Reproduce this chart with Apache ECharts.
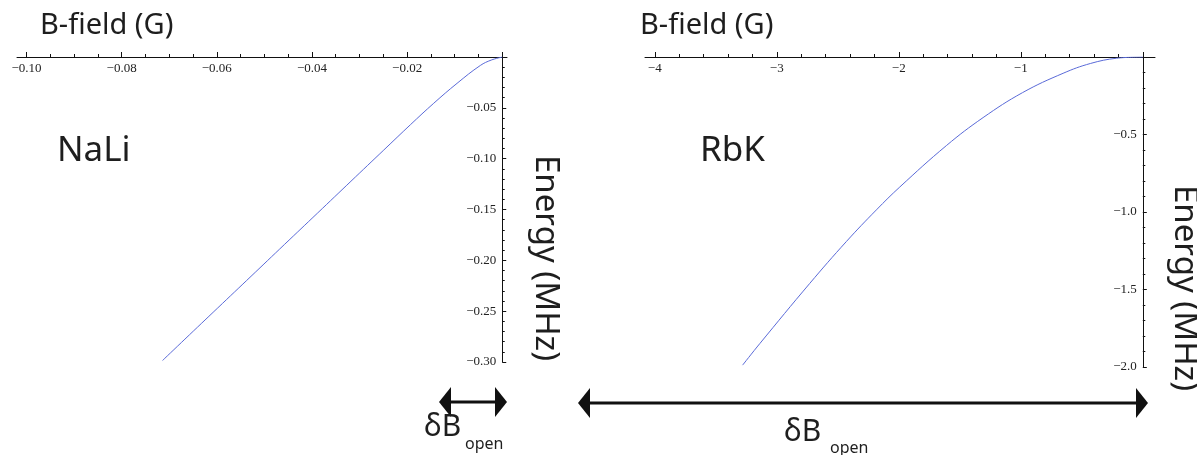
<!DOCTYPE html>
<html><head><meta charset="utf-8">
<script src="https://cdn.jsdelivr.net/npm/echarts@6/dist/echarts.min.js"></script>
<style>html,body{margin:0;padding:0;background:#fff}#c{width:1197px;height:455px}</style>
</head><body><div id="c"></div>
<script>
// NaLi curve (B-field in G, Energy in MHz)
const naliB = [0, -0.0023, -0.0046, -0.0095, -0.0144, -0.0193, -0.0249, -0.0318, -0.0388, -0.0458, -0.0528, -0.0598, -0.0667, -0.0714];
const naliE = [0, -0.0030, -0.0083, -0.0259, -0.0455, -0.0666, -0.0915, -0.1222, -0.1534, -0.1845, -0.2157, -0.2468, -0.2775, -0.2985];
// RbK curve
const rbkB = [0, -0.216, -0.430, -0.653, -0.986, -1.309, -1.609, -1.992, -2.183, -2.429, -2.730, -3.139, -3.280];
const rbkE = [0, -0.008, -0.042, -0.105, -0.230, -0.391, -0.571, -0.839, -0.986, -1.190, -1.461, -1.849, -1.988];

// ticks
const naliXMajor = [-0.10, -0.08, -0.06, -0.04, -0.02, 0];
const naliXLabels = [-0.10, -0.08, -0.06, -0.04, -0.02];
const naliXMinor = [-0.095, -0.09, -0.085, -0.075, -0.07, -0.065, -0.055, -0.05, -0.045, -0.035, -0.03, -0.025, -0.015, -0.01, -0.005];
const naliYLabels = [-0.05, -0.10, -0.15, -0.20, -0.25, -0.30];
const rbkXMajor = [-4, -3, -2, -1, 0];
const rbkXLabels = [-4, -3, -2, -1];
const rbkXMinor = [-3.8, -3.6, -3.4, -3.2, -2.8, -2.6, -2.4, -2.2, -1.8, -1.6, -1.4, -1.2, -0.8, -0.6, -0.4, -0.2];
const rbkYLabels = [-0.5, -1.0, -1.5, -2.0];

const axisColor = '#111';
const labelFont = {fontFamily: 'Liberation Serif', fontSize: 13, color: '#222'};
const fmt = d => v => (v < 0 ? '\u2212' : '') + Math.abs(v).toFixed(d);

function xAxes(gridIndex, min, max, major, labels, minor, dec) {
  return [
    {type: 'value', gridIndex, position: 'top', min, max,
     axisLine: {show: true, onZero: false, lineStyle: {color: axisColor, width: 1}},
     axisTick: {show: true, customValues: major, length: 5, lineStyle: {color: axisColor}},
     axisLabel: {show: true, inside: true, customValues: labels, margin: 5, formatter: fmt(dec), ...labelFont},
     splitLine: {show: false}},
    {type: 'value', gridIndex, position: 'top', min, max,
     axisLine: {show: false, onZero: false},
     axisTick: {show: true, customValues: minor, length: 3, lineStyle: {color: axisColor}},
     axisLabel: {show: false}, splitLine: {show: false}}
  ];
}
// y axis sits at B = 0; offset (negative) moves it left from the grid's right edge
function yAxis(gridIndex, min, interval, labels, dec, offset) {
  return {type: 'value', gridIndex, position: 'right', offset, min, max: 0, interval,
    axisLine: {show: true, onZero: false, lineStyle: {color: axisColor, width: 1}},
    axisTick: {show: true, length: 4, lineStyle: {color: axisColor}},
    minorTick: {show: true, splitNumber: 5, length: 2.5, lineStyle: {color: axisColor}},
    axisLabel: {show: true, inside: true, margin: 6, customValues: labels, formatter: fmt(dec), ...labelFont},
    splitLine: {show: false}};
}

const titleStyle = {fontFamily: 'Noto Sans', fontSize: 29, fill: '#1e1e1e'};
const chart = echarts.init(document.getElementById('c'), null, {renderer: 'canvas'});
const arrow = (x1, x2, y) => ({type: 'group', children: [
  {type: 'line', shape: {x1: x1 + 8, y1: y, x2: x2 - 8, y2: y}, style: {stroke: '#111', lineWidth: 3}},
  {type: 'polygon', shape: {points: [[x1, y], [x1 + 12, y - 15], [x1 + 12, y + 15]]}, style: {fill: '#111'}},
  {type: 'polygon', shape: {points: [[x2, y], [x2 - 12, y - 15], [x2 - 12, y + 15]]}, style: {fill: '#111'}}
]});

const g0 = {left: 17, top: 57, width: 490, height: 305};
const g1 = {left: 645, top: 57, width: 510, height: 310};
const x0 = [-0.102, 0.001], x1 = [-4.08, 0.1];
const off0 = -g0.width * x0[1] / (x0[1] - x0[0]);
const off1 = -g1.width * x1[1] / (x1[1] - x1[0]);

chart.setOption({
  backgroundColor: '#fff',
  animation: false,
  grid: [g0, g1],
  xAxis: [
    ...xAxes(0, x0[0], x0[1], naliXMajor, naliXLabels, naliXMinor, 2),
    ...xAxes(1, x1[0], x1[1], rbkXMajor, rbkXLabels, rbkXMinor, 0)
  ],
  yAxis: [yAxis(0, -0.30, 0.05, naliYLabels, 2, off0), yAxis(1, -2.0, 0.5, rbkYLabels, 1, off1)],
  series: [
    {type: 'line', xAxisIndex: 0, yAxisIndex: 0, showSymbol: false, smooth: 0.4,
     data: naliB.map((b, i) => [b, naliE[i]]), lineStyle: {color: '#5a6ad8', width: 1}},
    {type: 'line', xAxisIndex: 2, yAxisIndex: 1, showSymbol: false, smooth: 0.4,
     data: rbkB.map((b, i) => [b, rbkE[i]]), lineStyle: {color: '#5a6ad8', width: 1}}
  ],
  graphic: [
    {type: 'text', left: 40, top: 11, style: {text: 'B-field (G)', ...titleStyle}},
    {type: 'text', left: 640, top: 11, style: {text: 'B-field (G)', ...titleStyle}},
    {type: 'text', left: 57, top: 134, style: {text: 'NaLi', ...titleStyle, fontSize: 35}},
    {type: 'text', left: 700, top: 134, style: {text: 'RbK', ...titleStyle, fontSize: 35}},
    {type: 'text', x: 545, y: 258, rotation: -Math.PI / 2,
     style: {text: 'Energy (MHz)', ...titleStyle, fontSize: 33, align: 'center', verticalAlign: 'middle'}},
    {type: 'text', x: 1184, y: 288, rotation: -Math.PI / 2,
     style: {text: 'Energy (MHz)', ...titleStyle, fontSize: 33, align: 'center', verticalAlign: 'middle'}},
    arrow(439, 507, 402),
    arrow(578, 1148, 403),
    {type: 'text', left: 424, top: 412, style: {text: '\u03b4B', ...titleStyle, fontSize: 30}},
    {type: 'text', left: 465, top: 436, style: {text: 'open', ...titleStyle, fontSize: 16}},
    {type: 'text', left: 784, top: 417, style: {text: '\u03b4B', ...titleStyle, fontSize: 30}},
    {type: 'text', left: 830, top: 440, style: {text: 'open', ...titleStyle, fontSize: 16}}
  ]
});
</script></body></html>
